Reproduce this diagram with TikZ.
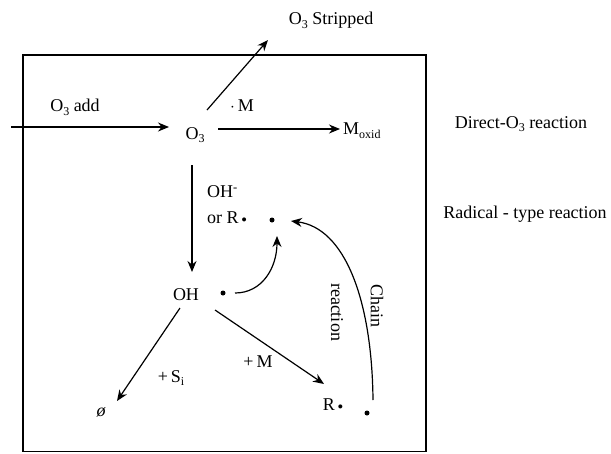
\documentclass[tikz,border=0pt]{standalone}
\usepackage{fontspec}
\setmainfont{Liberation Serif}
\usetikzlibrary{arrows.meta}
\newcommand{\smbul}{\,\raisebox{0.15ex}{\scalebox{0.6}{$\bullet$}}}
\newcommand{\lsub}[1]{\raisebox{-0.45ex}{\fontsize{12}{12}\selectfont #1}}
\begin{document}
\begin{tikzpicture}[x=1pt,y=-1pt,
  lbl/.style={inner sep=0pt,font=\fontsize{18}{20}\selectfont},
  arr/.style={line width=1.2pt,-{Stealth[length=11pt,width=9pt]}},
  rad/.style={circle,fill=black,inner sep=0pt,minimum size=5pt}]
\useasboundingbox (0,0) rectangle (611,453);
\draw[line width=1.2pt] (23,55) rectangle (426,451.5);
% nodes
\node[lbl] (o3) at (195,135) {O\lsub{3}};
\node[lbl] (strip) at (331,20) {O\lsub{3} Stripped};
\node[lbl] (addl) at (75,107) {O\lsub{3} add};
\node[lbl] (dm) at (242,106) {$\cdot$\,M};
\node[lbl,anchor=west] (mox) at (343,131) {M\lsub{oxid}};
\node[lbl] (direct) at (521,124) {Direct-O\lsub{3} reaction};
\node[lbl] (radical) at (525,214) {Radical - type reaction};
\node[lbl,anchor=west] (ohm) at (207,192) {OH\textsuperscript{-}};
\node[lbl,anchor=west] (orr) at (207,218) {or R\smbul};
\node[rad] (d1) at (272,220) {};
\node[lbl] (oh) at (186,295) {OH};
\node[rad] (d2) at (223,293) {};
\node[lbl] (pm) at (258,362) {+\,M};
\node[lbl] (psi) at (171,378) {+\,S\lsub{i}};
\node[lbl] (null) at (101,412) {\itshape ø};
\node[lbl] (rr) at (333,405) {R\smbul};
\node[rad] (d3) at (367,413) {};
\node[lbl,rotate=-90] (chain) at (377,306) {Chain};
\node[lbl,rotate=-90] (reac) at (337,312) {reaction};
% endpoints
\coordinate (in0) at (11,127);
\coordinate (in1) at (169,127);
\coordinate (s0) at (207,110);
\coordinate (s1) at (268,40);
\coordinate (m0) at (218,129);
\coordinate (m1) at (340,129);
\coordinate (v0) at (192,165);
\coordinate (v1) at (192,272);
\coordinate (c0) at (235,293);
\coordinate (c1) at (277,236);
\coordinate (r0) at (215,310);
\coordinate (r1) at (324,384);
\coordinate (n0) at (180,308);
\coordinate (n1) at (117,401);
\coordinate (k0) at (373,400);
\coordinate (k1) at (291,221);
% connectors
\draw[arr] (in0) -- (in1);
\draw[arr] (s0) -- (s1);
\draw[arr] (m0) -- (m1);
\draw[arr] (v0) -- (v1);
\draw[arr] (c0) .. controls (262,293) and (277,268) .. (c1);
\draw[arr] (r0) -- (r1);
\draw[arr] (n0) -- (n1);
\draw[arr] (k0) .. controls (372,300) and (345,228) .. (k1);
\end{tikzpicture}
\end{document}
